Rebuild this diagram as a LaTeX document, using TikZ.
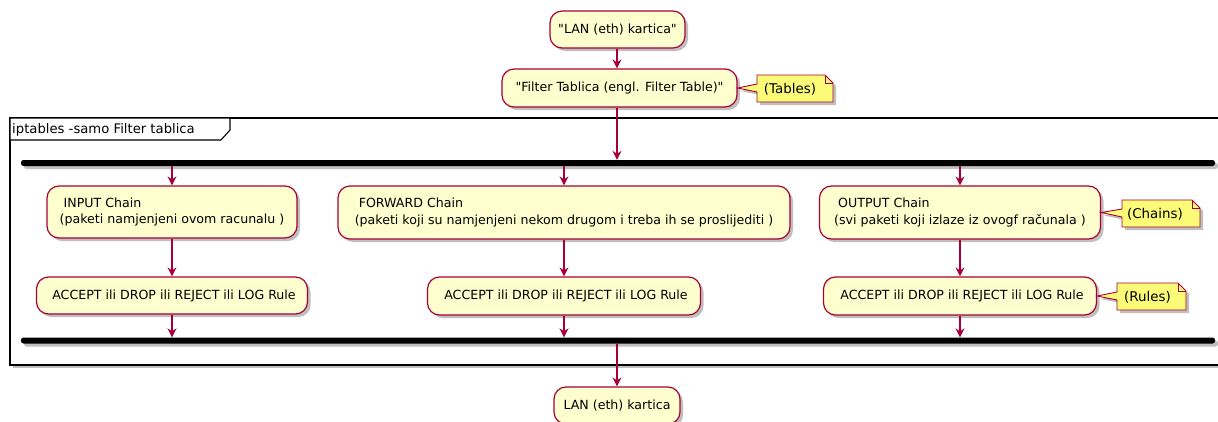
\documentclass[tikz,border=0pt]{standalone}
\usepackage{fontspec}
\setmainfont{DejaVu Sans}
\usetikzlibrary{arrows.meta,shadows}
\definecolor{ured}{HTML}{A80036}
\definecolor{nfill}{HTML}{FEFECE}
\definecolor{notefill}{HTML}{FBFB77}
\newcommand{\dq}{\XeTeXglyph\XeTeXcharglyph"22\relax}
\tikzset{
  shad/.style={drop shadow={shadow xshift=3pt,shadow yshift=-3pt,opacity=0.25,fill=black}},
  act/.style={draw=ured,fill=nfill,line width=1.2pt,rounded corners=12pt,inner sep=0pt,
    font=\fontsize{12.6}{16.5}\selectfont,shad},
  arr/.style={draw=ured,line width=1.3pt,-{Stealth[length=9pt,width=9pt,inset=3pt]}},
  bar/.style={fill=black,rounded corners=2.5pt,inner sep=0pt,minimum width=1194pt,minimum height=6pt,shad},
  notebox/.style={draw=ured,fill=notefill,line width=0.9pt,shad},
  notetext/.style={font=\fontsize{13.4}{15}\selectfont,inner sep=0pt},
  framebox/.style={draw=black,fill=white,line width=1.4pt,shad}
}
\begin{document}
\begin{tikzpicture}[x=1pt,y=-1pt]
\useasboundingbox[fill=white] (0,0) rectangle (1218,421);
% frame
\path[framebox] (10,118) rectangle (1232,365);
\draw[line width=1.1pt,fill=white] (10,118) -- (230,118) -- (230,130) -- (221,140) -- (10,140) -- cycle;
\node[anchor=west,inner sep=0pt,font=\fontsize{13.2}{15}\selectfont] (ftitle) at (12,129.5) {iptables -samo Filter tablica};
% top nodes
\node[act,minimum width=135pt,minimum height=37pt] (lan1) at (617.5,29.5) {\dq LAN (eth) kartica\dq};
\node[act,minimum width=235pt,minimum height=38pt] (filt) at (619.5,88) {\dq Filter Tablica (engl. Filter Table)\dq};
% fork / join bars
\node[bar] (fork) at (618,163) {};
\node[bar] (join) at (618,340.5) {};
% chains
\node[act,minimum width=250pt,minimum height=52pt,align=left] (in) at (172,212) {\ INPUT Chain\\(paketi namjenjeni ovom racunalu )};
\node[act,minimum width=452pt,minimum height=53pt,align=left] (fw) at (564,212.5) {\ FORWARD Chain\\(paketi koji su namjenjeni nekom drugom i treba ih se proslijediti )};
\node[act,minimum width=281pt,minimum height=53pt,align=left] (out) at (960,212.5) {\ OUTPUT Chain\\(svi paketi koji izlaze iz ovogf računala )};
% rules
\node[act,minimum width=271pt,minimum height=37pt] (inacc) at (172,295.5) {\ ACCEPT ili DROP ili REJECT ili LOG Rule};
\node[act,minimum width=273pt,minimum height=38pt] (fwacc) at (564,296) {\ ACCEPT ili DROP ili REJECT ili LOG Rule};
\node[act,minimum width=273pt,minimum height=38pt] (outacc) at (960,296) {\ ACCEPT ili DROP ili REJECT ili LOG Rule};
% bottom
\node[act,minimum width=126pt,minimum height=37pt] (lan2) at (617,405.5) {LAN (eth) kartica};
% connectors
\draw[arr] (lan1.south -| 617,0) -- (filt.north -| 617,0);
\draw[arr] (filt.south -| 617,0) -- (fork.north -| 617,0);
\draw[arr] (in.north |- fork.south) -- (in.north);
\draw[arr] (fw.north |- fork.south) -- (fw.north);
\draw[arr] (out.north |- fork.south) -- (out.north);
\draw[arr] (in.south) -- (inacc.north);
\draw[arr] (fw.south) -- (fwacc.north);
\draw[arr] (out.south) -- (outacc.north);
\draw[arr] (inacc.south) -- (inacc.south |- join.north);
\draw[arr] (fwacc.south) -- (fwacc.south |- join.north);
\draw[arr] (outacc.south) -- (outacc.south |- join.north);
\draw[arr] (join.south -| lan2.north) -- (lan2.north);
% notes
\path[notebox] (757,75) -- (825,75) -- (833,83) -- (833,102) -- (757,102) -- (757,92) -- (filt.east) -- (757,84) -- cycle;
\draw[ured,line width=0.9pt] (825,75) -- (825,83) -- (833,83);
\node[notetext] (ntab) at (790,89) {(Tables)};
\path[notebox] (1122,200) -- (1192,200) -- (1200,208) -- (1200,227) -- (1122,227) -- (1122,217) -- (out.east) -- (1122,209) -- cycle;
\draw[ured,line width=0.9pt] (1192,200) -- (1192,208) -- (1200,208);
\node[notetext] (nchain) at (1155,214) {(Chains)};
\path[notebox] (1117,283) -- (1178,283) -- (1186,291) -- (1186,310) -- (1117,310) -- (1117,300) -- (outacc.east) -- (1117,292) -- cycle;
\draw[ured,line width=0.9pt] (1178,283) -- (1178,291) -- (1186,291);
\node[notetext] (nrule) at (1147.5,297) {(Rules)};
\end{tikzpicture}
\end{document}
